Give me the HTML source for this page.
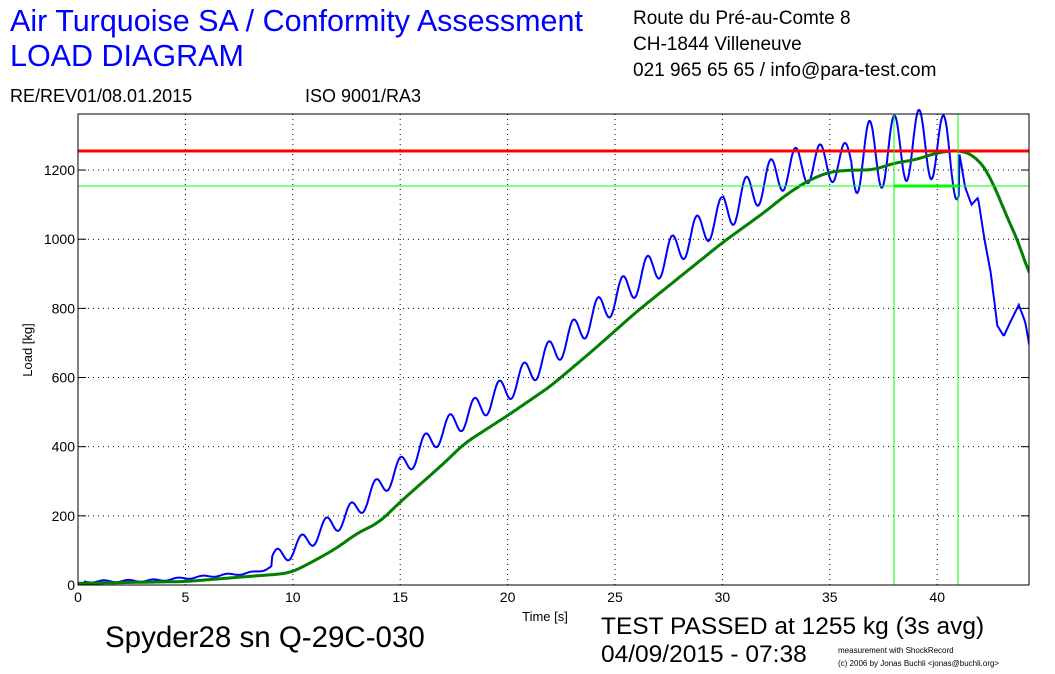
<!DOCTYPE html>
<html><head><meta charset="utf-8"><style>
body{margin:0;background:#fff;width:1055px;height:674px;overflow:hidden;font-family:"Liberation Sans",sans-serif}
.t{position:absolute;white-space:nowrap}
</style></head><body>
<div class="t" style="left:10px;top:4px;font-size:30.5px;color:#0000ff">Air Turquoise SA / Conformity Assessment</div>
<div class="t" style="left:10px;top:39px;font-size:30.5px;color:#0000ff">LOAD DIAGRAM</div>
<div class="t" style="left:633px;top:8px;font-size:19px">Route du Pré-au-Comte 8</div>
<div class="t" style="left:633px;top:34px;font-size:19px">CH-1844 Villeneuve</div>
<div class="t" style="left:633px;top:60px;font-size:19px">021 965 65 65 / info@para-test.com</div>
<div class="t" style="left:10px;top:86px;font-size:18px">RE/REV01/08.01.2015</div>
<div class="t" style="left:305px;top:86px;font-size:18px">ISO 9001/RA3</div>
<div class="t" style="left:105px;top:621px;font-size:29.5px">Spyder28 sn Q-29C-030</div>
<div class="t" style="left:601px;top:613px;font-size:24.5px">TEST PASSED at 1255 kg (3s avg)</div>
<div class="t" style="left:601px;top:641px;font-size:24.5px">04/09/2015 - 07:38</div>
<div class="t" style="left:838px;top:646px;font-size:8px">measurement with ShockRecord</div>
<div class="t" style="left:838px;top:659px;font-size:8px">(c) 2006 by Jonas Buchli &lt;jonas@buchli.org&gt;</div>
<svg id="s" width="1055" height="674" style="position:absolute;left:0;top:0" font-family="Liberation Sans, sans-serif" font-size="14"></svg>
<script>
var X0=78,X1=1029,Y0=585,Y1=114,px=21.48,py=0.3458;
function X(t){return X0+t*px}function Y(v){return Y0-v*py}
var h='<defs><clipPath id="c"><rect x="'+X0+'" y="'+(Y1-5)+'" width="'+(X1-X0)+'" height="'+(Y0-Y1+10)+'"/></clipPath></defs>';
for(var t=5;t<=40;t+=5){h+='<line x1="'+X(t)+'" y1="'+Y1+'" x2="'+X(t)+'" y2="'+Y0+'" stroke="#000" stroke-dasharray="1,4"/>';
h+='<text x="'+X(t)+'" y="602" text-anchor="middle">'+t+'</text>';}
h+='<text x="'+X0+'" y="602" text-anchor="middle">0</text>';
for(var v=0;v<=1200;v+=200){if(v>0)h+='<line x1="'+X0+'" y1="'+Y(v)+'" x2="'+X1+'" y2="'+Y(v)+'" stroke="#000" stroke-dasharray="1,4"/>';
h+='<line x1="'+X0+'" y1="'+Y(v)+'" x2="'+(X0+8)+'" y2="'+Y(v)+'" stroke="#000"/><line x1="'+(X1-8)+'" y1="'+Y(v)+'" x2="'+X1+'" y2="'+Y(v)+'" stroke="#000"/>';
h+='<text x="'+(X0-3)+'" y="'+(Y(v)+5)+'" text-anchor="end">'+v+'</text>';}
h+='<text x="545" y="621" text-anchor="middle" font-size="13">Time [s]</text>';
h+='<text transform="translate(32,350) rotate(-90)" text-anchor="middle" font-size="13">Load [kg]</text>';
var G=[[0,5],[5,10],[8,25],[9.5,32],[10,38],[11,70],[12,105],[13,150],[14,180],[15,240],[16,295],[17,350],[18,410],[20,490],[22,575],[24,680],[26,790],[28,890],[30,990],[32,1080],[33,1130],[34,1170],[35,1195],[36,1200],[37,1200],[38,1220],[39,1230],[40,1250],[41,1258],[41.8,1240],[42.5,1180],[43,1100],[44,960],[44.3,890],[44.5,860]];
function g(t){if(t<=0)return 5;for(var i=1;i<G.length;i++)if(t<=G[i][0]){var a=G[i-1],b=G[i];return a[1]+(b[1]-a[1])*(t-a[0])/(b[0]-a[0]);}return 860;}
function gs(t){var s=0,n=0;for(var d=-0.4;d<=0.4;d+=0.1){var u=Math.min(44.5,Math.max(0,t+d));s+=g(u);n++;}return s/n;}
var B=[[41,1260],[41.3,1150],[41.6,1100],[41.9,1120],[42.2,1000],[42.5,900],[42.8,750],[43.1,720],[43.4,760],[43.8,810],[44.1,760],[44.3,690],[44.5,680]];
function bl(t){for(var i=1;i<B.length;i++)if(t<=B[i][0]){var a=B[i-1],b=B[i];return a[1]+(b[1]-a[1])*(t-a[0])/(b[0]-a[0]);}return 680;}
var gp='',bp='';
for(var t=0;t<=44.5;t+=0.04){
 var gv=gs(t);gp+=(gp?'L':'M')+X(t).toFixed(1)+','+Y(gv).toFixed(1);
 var bv;
 if(t>41)bv=bl(t);else{
  var a=t<9?3:(t<30?25+(t-9)*1.2:(t<36?55:100));
  var base=gs(t+1.4)+(t<9?3:20);
  bv=base+a*Math.cos(2*Math.PI*(t-12.7)/1.15);
  if(t<0.3)bv=5;
 }
 bp+=(bp?'L':'M')+X(t).toFixed(1)+','+Y(bv).toFixed(1);}
h+='<g clip-path="url(#c)"><path d="'+bp+'" fill="none" stroke="#0000ff" stroke-width="2"/>';
h+='<path d="'+gp+'" fill="none" stroke="#007f00" stroke-width="3"/></g>';
h+='<line x1="'+X0+'" y1="151" x2="'+X1+'" y2="151" stroke="#ff0000" stroke-width="3"/>';
h+='<line x1="'+X0+'" y1="186" x2="'+X1+'" y2="186" stroke="#00ff00" stroke-width="1"/>';
h+='<line x1="894" y1="186" x2="958" y2="186" stroke="#00ff00" stroke-width="3"/>';
h+='<line x1="894" y1="'+Y1+'" x2="894" y2="'+Y0+'" stroke="#00ff00"/>';
h+='<line x1="958" y1="'+Y1+'" x2="958" y2="'+Y0+'" stroke="#00ff00"/>';
h+='<rect x="'+X0+'" y="'+Y1+'" width="'+(X1-X0)+'" height="'+(Y0-Y1)+'" fill="none" stroke="#000"/>';
document.getElementById('s').innerHTML=h;
</script>
</body></html>
